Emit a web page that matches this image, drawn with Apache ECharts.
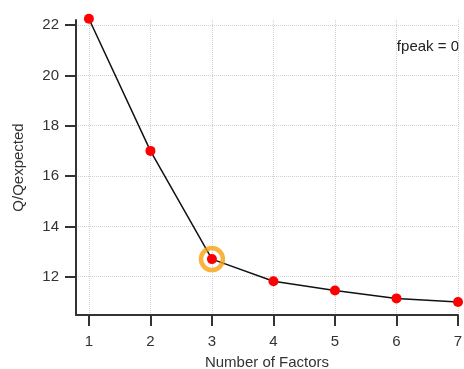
<!DOCTYPE html>
<html>
<head>
<meta charset="utf-8">
<script src="https://cdn.jsdelivr.net/npm/echarts@6/dist/echarts.min.js"></script>
<style>
  html, body { margin: 0; padding: 0; background: #fff; }
  #chart { width: 464px; height: 369px; }
</style>
</head>
<body>
<div id="chart"></div>
<script>
// 因子数与 Q/Qexpected
const factors = [1, 2, 3, 4, 5, 6, 7]
const qRatio = [22.25, 17.0, 12.7, 11.82, 11.45, 11.14, 11.0]
const xTicks = [1, 2, 3, 4, 5, 6, 7]
const yTicks = [12, 14, 16, 18, 20, 22]
const chosen = 3 // 选中的因子数

const myChart = echarts.init(document.querySelector('#chart'))
const font = 'Liberation Sans, Arial, sans-serif'
const axisColor = '#333'

const option = {
    animation: false,
    textStyle: { fontFamily: font },
    grid: { left: 76, right: 6, top: 20, bottom: 54, outerBoundsMode: 'none' },
    xAxis: {
        type: 'value',
        min: 0.79,
        max: 7,
        name: 'Number of Factors',
        nameLocation: 'middle',
        nameGap: 40,
        nameTextStyle: { fontSize: 15, color: '#333', fontFamily: font },
        axisLine: { lineStyle: { color: axisColor, width: 2 } },
        axisTick: { customValues: xTicks, length: 11, lineStyle: { color: axisColor, width: 2 } },
        axisLabel: { customValues: xTicks, fontSize: 15, color: '#333', margin: 19, fontFamily: font },
        splitLine: { show: true, lineStyle: { color: '#d0d0d0', type: 'dotted' } }
    },
    yAxis: {
        type: 'value',
        min: 10.48,
        max: 22.2,
        name: 'Q/Qexpected',
        nameLocation: 'middle',
        nameGap: 50,
        nameTextStyle: { fontSize: 15, color: '#333', fontFamily: font },
        axisLine: { show: true, lineStyle: { color: axisColor, width: 2 } },
        axisTick: { show: true, customValues: yTicks, length: 11, lineStyle: { color: axisColor, width: 2 } },
        axisLabel: { customValues: yTicks, fontSize: 15, color: '#333', margin: 17, fontFamily: font },
        splitLine: { show: true, lineStyle: { color: '#d0d0d0', type: 'dotted' } }
    },
    graphic: [{
        type: 'text',
        right: 5,
        top: 39,
        style: { text: 'fpeak = 0', fontSize: 15, fill: '#222', fontFamily: font }
    }],
    series: [
        {
            type: 'line',
            data: factors.map((f, i) => [f, qRatio[i]]),
            clip: false,
            lineStyle: { color: '#111', width: 1.5 },
            symbol: 'circle',
            symbolSize: 10,
            itemStyle: { color: '#f00' },
            z: 3
        },
        {
            type: 'scatter',
            data: [[chosen, qRatio[factors.indexOf(chosen)]]],
            clip: false,
            symbol: 'circle',
            symbolSize: 22,
            itemStyle: { color: 'rgba(0,0,0,0)', borderColor: '#f5a310', borderWidth: 4.5 },
            z: 4
        }
    ]
}
myChart.setOption(option)
</script>
</body>
</html>
